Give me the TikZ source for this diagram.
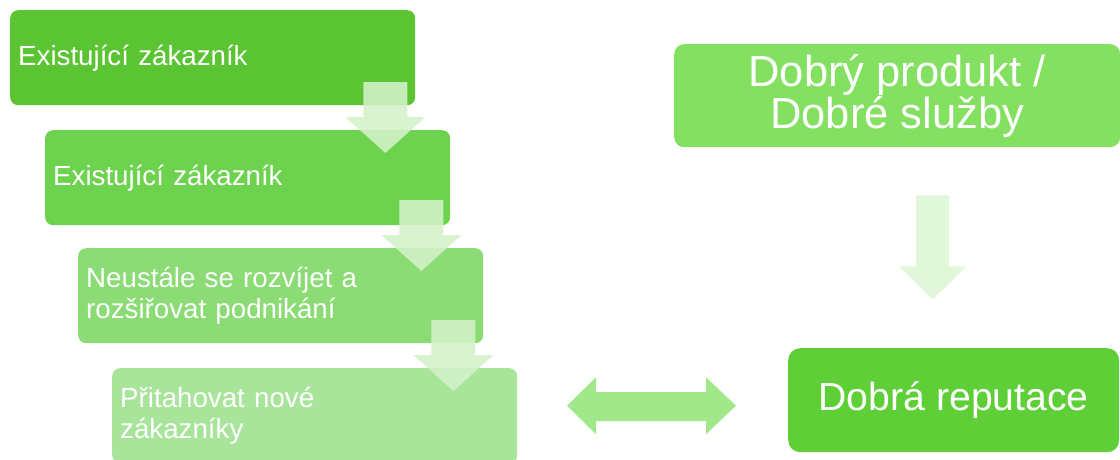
\documentclass[tikz,border=0pt]{standalone}
\usepackage{fontspec}
\setmainfont{Liberation Sans}
\usetikzlibrary{calc}

\definecolor{stepA}{HTML}{5BC433}
\definecolor{stepB}{HTML}{6DD34F}
\definecolor{stepC}{HTML}{8BDC75}
\definecolor{stepD}{HTML}{A8E59B}
\definecolor{causeG}{HTML}{83E061}
\definecolor{goalG}{HTML}{5ECF37}
\definecolor{linkG}{HTML}{A1E88B}
\definecolor{paleG}{HTML}{E0F7DA}
\definecolor{flowG}{HTML}{D4F1CA}

\tikzset{
  stepbox/.style={anchor=north west, rounded corners=8pt, text=white,
    minimum height=95pt, text width=389pt, inner xsep=8pt, inner ysep=0pt,
    align=left, font=\fontsize{27.7}{31}\selectfont},
  bigbox/.style={rounded corners=10pt, text=white, inner sep=0pt,
    align=center, font=\fontsize{43.5}{40}\selectfont},
  % short block arrow linking two consecutive steps
  flowdown/.pic={
    \fill[flowG, fill opacity=0.88]
      (-22,0) -- (22,0) -- (22,35) -- (40,35) -- (0,71) -- (-40,35) -- (-22,35) -- cycle;
  },
}

\begin{document}
\begin{tikzpicture}[x=1pt,y=-1pt]
\useasboundingbox (0,0) rectangle (1120,459);
\clip (0,0) rectangle (1120,459);

% process steps on the left
\node[stepbox, fill=stepA] (s1) at (10,10)  {Existující zákazník};
\node[stepbox, fill=stepB] (s2) at (45,130) {Existující zákazník};
\node[stepbox, fill=stepC] (s3) at (78,248) {Neustále se rozvíjet a\\rozšiřovat podnikání};
\node[stepbox, fill=stepD] (s4) at (112,368) {Přitahovat nové\\zákazníky};

% arrows between steps
\pic at ($(s1.north east)+(-30,72)$) {flowdown};
\pic at ($(s2.north east)+(-29,70)$) {flowdown};
\pic at ($(s3.north east)+(-30,72)$) {flowdown};

% right column
\node[bigbox, fill=causeG, minimum width=446pt, minimum height=103pt, anchor=north west]
  (cause) at (674,44) {Dobrý produkt /\\Dobré služby};
\node[bigbox, fill=goalG, rounded corners=12pt, minimum width=331pt, minimum height=104pt,
  anchor=north west, font=\fontsize{39.2}{40}\selectfont] (goal) at (788,348) {Dobrá reputace};

% arrow from cause towards reputation
\begin{scope}[shift={($(cause.south)+(35.5,48)$)}]
  \fill[paleG] (-16.5,0) -- (16.5,0) -- (16.5,71) -- (33.5,71) -- (0,104)
    -- (-33.5,71) -- (-16.5,71) -- cycle;
\end{scope}

% two-way link between the steps and reputation
\begin{scope}[shift={($(goal.west)+(-136.5,5.5)$)}]
  \fill[linkG] (-84.5,0) -- (-55.5,-28.5) -- (-55.5,-13.5) -- (54.5,-13.5)
    -- (54.5,-28.5) -- (84.5,0) -- (54.5,28.5) -- (54.5,15.5) -- (-55.5,15.5)
    -- (-55.5,28.5) -- cycle;
\end{scope}
\end{tikzpicture}
\end{document}
